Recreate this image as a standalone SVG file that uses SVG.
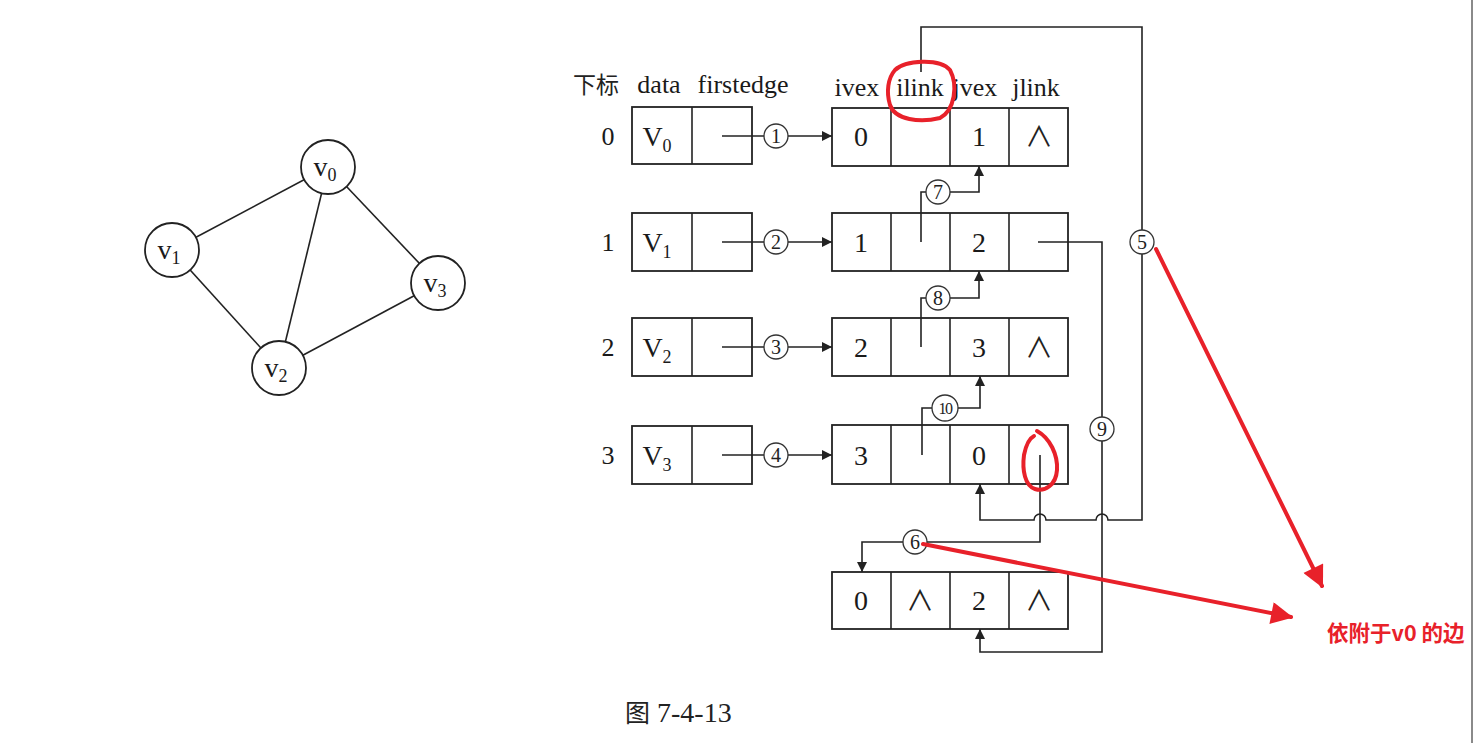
<svg xmlns="http://www.w3.org/2000/svg" width="1475" height="743" viewBox="0 0 1475 743">
<defs>
<marker id="ah" viewBox="0 0 10 10" refX="10" refY="5" markerWidth="10" markerHeight="10" markerUnits="userSpaceOnUse" orient="auto">
<path d="M0,0 L10,5 L0,10 Z" fill="#222"/>
</marker>
<marker id="rah" viewBox="0 0 10 10" refX="9" refY="5" markerWidth="24" markerHeight="22" markerUnits="userSpaceOnUse" orient="auto">
<path d="M0,0 L10,5 L0,10 Z" fill="#e8212a"/>
</marker>
<style>
.ln{fill:none;stroke:#222;stroke-width:1.6}
.box{fill:#fff;stroke:#222;stroke-width:1.8}
.cell{fill:none;stroke:#222;stroke-width:1.6}
.t{font-family:"Liberation Serif","DejaVu Serif",serif;fill:#1a1a1a;text-anchor:middle}
.hd{font-size:26px}
.val{font-size:28px}
.nul{font-family:"Noto Sans CJK SC",sans-serif;font-size:28px;fill:#222;text-anchor:middle}
.cn{fill:#fff;stroke:#333;stroke-width:1.3}
.cnt{font-family:"Liberation Serif",serif;font-size:20px;fill:#222;text-anchor:middle}
.gn{fill:#fff;stroke:#222;stroke-width:1.8}
.red{fill:none;stroke:#e8212a;stroke-width:4;stroke-linecap:round}
</style>
</defs>
<rect width="1475" height="743" fill="#fff"/>
<line x1="1472" y1="0" x2="1472" y2="743" stroke="#8a8a8a" stroke-width="2"/>

<!-- graph -->
<g id="graph-edges" class="ln">
<line x1="328" y1="167" x2="172" y2="250"/>
<line x1="328" y1="167" x2="279" y2="368"/>
<line x1="328" y1="167" x2="438" y2="283"/>
<line x1="172" y1="250" x2="279" y2="368"/>
<line x1="279" y1="368" x2="438" y2="283"/>
</g>
<g id="gv0"><circle class="gn" cx="328" cy="167" r="27"/><text class="t val" x="325" y="176">v<tspan font-size="18" dy="5">0</tspan></text></g>
<g id="gv1"><circle class="gn" cx="172" cy="250" r="27"/><text class="t val" x="169" y="259">v<tspan font-size="18" dy="5">1</tspan></text></g>
<g id="gv2"><circle class="gn" cx="279" cy="368" r="27"/><text class="t val" x="276" y="377">v<tspan font-size="18" dy="5">2</tspan></text></g>
<g id="gv3"><circle class="gn" cx="438" cy="283" r="27"/><text class="t val" x="435" y="292">v<tspan font-size="18" dy="5">3</tspan></text></g>

<!-- headers -->
<g id="headers">
<text x="596" y="93" style="font-family:'Noto Sans CJK SC',sans-serif;font-size:23px;fill:#222;text-anchor:middle">下标</text>
<text class="t hd" x="659" y="93">data</text>
<text class="t hd" x="743" y="93">firstedge</text>
<text class="t hd" x="857" y="96">ivex</text>
<text class="t hd" x="920" y="96">ilink</text>
<text class="t hd" x="975" y="96">jvex</text>
<text class="t hd" x="1036" y="96">jlink</text>
</g>

<!-- vertex table -->
<g id="vertex0"><text class="t hd" x="608" y="145">0</text><rect class="box" x="632" y="107" width="120" height="57"/><line class="cell" x1="692" y1="107" x2="692" y2="164"/><text class="t val" x="657" y="146">V<tspan font-size="18" dy="6">0</tspan></text></g>
<g id="vertex1"><text class="t hd" x="608" y="251">1</text><rect class="box" x="632" y="213" width="120" height="58"/><line class="cell" x1="692" y1="213" x2="692" y2="271"/><text class="t val" x="657" y="252">V<tspan font-size="18" dy="6">1</tspan></text></g>
<g id="vertex2"><text class="t hd" x="608" y="356">2</text><rect class="box" x="632" y="318" width="120" height="58"/><line class="cell" x1="692" y1="318" x2="692" y2="376"/><text class="t val" x="657" y="357">V<tspan font-size="18" dy="6">2</tspan></text></g>
<g id="vertex3"><text class="t hd" x="608" y="464">3</text><rect class="box" x="632" y="426" width="120" height="58"/><line class="cell" x1="692" y1="426" x2="692" y2="484"/><text class="t val" x="657" y="465">V<tspan font-size="18" dy="6">3</tspan></text></g>

<!-- edge nodes -->
<g id="edge01"><rect class="box" x="832" y="108" width="236" height="58"/><line class="cell" x1="891" y1="108" x2="891" y2="166"/><line class="cell" x1="950" y1="108" x2="950" y2="166"/><line class="cell" x1="1009" y1="108" x2="1009" y2="166"/>
<text class="t val" x="861" y="146">0</text><text class="t val" x="979" y="146">1</text><text class="nul" x="1039" y="147">∧</text></g>
<g id="edge12"><rect class="box" x="832" y="213" width="236" height="58"/><line class="cell" x1="891" y1="213" x2="891" y2="271"/><line class="cell" x1="950" y1="213" x2="950" y2="271"/><line class="cell" x1="1009" y1="213" x2="1009" y2="271"/>
<text class="t val" x="861" y="252">1</text><text class="t val" x="979" y="252">2</text></g>
<g id="edge23"><rect class="box" x="832" y="318" width="236" height="58"/><line class="cell" x1="891" y1="318" x2="891" y2="376"/><line class="cell" x1="950" y1="318" x2="950" y2="376"/><line class="cell" x1="1009" y1="318" x2="1009" y2="376"/>
<text class="t val" x="861" y="357">2</text><text class="t val" x="979" y="357">3</text><text class="nul" x="1039" y="358">∧</text></g>
<g id="edge30"><rect class="box" x="832" y="425" width="236" height="59"/><line class="cell" x1="891" y1="425" x2="891" y2="484"/><line class="cell" x1="950" y1="425" x2="950" y2="484"/><line class="cell" x1="1009" y1="425" x2="1009" y2="484"/>
<text class="t val" x="861" y="465">3</text><text class="t val" x="979" y="465">0</text></g>
<g id="edge02"><rect class="box" x="832" y="572" width="236" height="57"/><line class="cell" x1="891" y1="572" x2="891" y2="629"/><line class="cell" x1="950" y1="572" x2="950" y2="629"/><line class="cell" x1="1009" y1="572" x2="1009" y2="629"/>
<text class="t val" x="861" y="610">0</text><text class="nul" x="920" y="611">∧</text><text class="t val" x="979" y="610">2</text><text class="nul" x="1039" y="611">∧</text></g>

<!-- connectors -->
<g id="connectors">
<g class="ln">
<path d="M722,136 H764"/><path d="M788,136 H832" marker-end="url(#ah)"/>
<path d="M722,242 H764"/><path d="M788,242 H832" marker-end="url(#ah)"/>
<path d="M722,347 H764"/><path d="M788,347 H832" marker-end="url(#ah)"/>
<path d="M722,455 H764"/><path d="M788,455 H832" marker-end="url(#ah)"/>
<path d="M921,242 V192 H926"/><path d="M950,192 H979 V166" marker-end="url(#ah)"/>
<path d="M921,347 V298 H926"/><path d="M950,298 H979 V271" marker-end="url(#ah)"/>
<path d="M922,455 V408 H932"/><path d="M958,408 H980 V376" marker-end="url(#ah)"/>
<path d="M1038,242 H1102 V417"/><path d="M1102,441 V652 H980 V629" marker-end="url(#ah)"/>
<path d="M1040,455 V542 H927"/><path d="M903,542 H862 V572" marker-end="url(#ah)"/>
<path d="M921,72 V27 H1142 V230"/>
<path d="M1142,254 V520 H1108 A6,6 0 0 0 1096,520 H1046 A6,6 0 0 0 1034,520 H980 V484" marker-end="url(#ah)"/>
</g>
<g id="c1"><circle class="cn" cx="776" cy="136" r="12"/><text class="cnt" x="776" y="143">1</text></g>
<g id="c2"><circle class="cn" cx="776" cy="242" r="12"/><text class="cnt" x="776" y="249">2</text></g>
<g id="c3"><circle class="cn" cx="776" cy="347" r="12"/><text class="cnt" x="776" y="354">3</text></g>
<g id="c4"><circle class="cn" cx="776" cy="455" r="12"/><text class="cnt" x="776" y="462">4</text></g>
<g id="c5"><circle class="cn" cx="1142" cy="242" r="12"/><text class="cnt" x="1142" y="249">5</text></g>
<g id="c6"><circle class="cn" cx="915" cy="542" r="12"/><text class="cnt" x="915" y="549">6</text></g>
<g id="c7"><circle class="cn" cx="938" cy="192" r="12"/><text class="cnt" x="938" y="199">7</text></g>
<g id="c8"><circle class="cn" cx="938" cy="298" r="12"/><text class="cnt" x="938" y="305">8</text></g>
<g id="c9"><circle class="cn" cx="1102" cy="429" r="12"/><text class="cnt" x="1102" y="436">9</text></g>
<g id="c10"><circle class="cn" cx="945" cy="408" r="13"/><text class="cnt" x="945" y="414" style="font-size:16px;letter-spacing:-1.5px">10</text></g>
</g>

<!-- caption -->
<text x="625" y="722" style="font-family:'Liberation Serif','Noto Sans CJK SC',serif;font-size:28px;fill:#222"><tspan style="font-family:'Noto Sans CJK SC',sans-serif;font-size:25px">图</tspan> 7-4-13</text>

<!-- red annotations -->
<g id="annotations">
<path class="red" d="M895,70 C905,60 940,58 950,70 C958,85 955,110 940,118 C920,123 895,120 890,105 C886,92 888,78 895,70 Z"/>
<path class="red" d="M1037,431 C1050,438 1058,455 1057,470 C1056,485 1045,492 1035,489 C1025,486 1022,470 1024,455 C1026,445 1030,438 1034,436"/>
<line class="red" x1="1156" y1="249" x2="1322" y2="586" marker-end="url(#rah)"/>
<line class="red" x1="923" y1="544" x2="1291" y2="617" marker-end="url(#rah)"/>
<text x="1327" y="641" style="font-family:'Noto Sans CJK SC',sans-serif;font-weight:bold;font-size:21.5px;fill:#e8212a;stroke:#fff;stroke-width:3;paint-order:stroke;stroke-linejoin:round">依附于v0 的边</text>
</g>
</svg>
